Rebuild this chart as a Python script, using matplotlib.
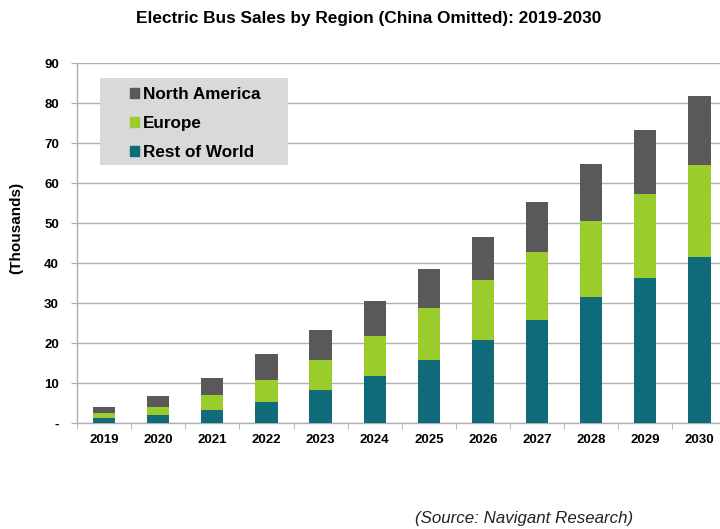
import numpy as np
import matplotlib
matplotlib.use('Agg')
from matplotlib import pyplot as plt
from matplotlib.patches import Patch, Rectangle

plt.rcParams['font.family'] = ['Liberation Sans', 'DejaVu Sans']

years = ['2019', '2020', '2021', '2022', '2023', '2024',
         '2025', '2026', '2027', '2028', '2029', '2030']
# sales in thousands of buses, stacked bottom to top
rest_of_world = [1.2, 2.1, 3.25, 5.25, 8.25, 11.7, 15.9, 20.75, 25.9, 31.5, 36.25, 41.5]
europe = [1.3, 2.0, 3.75, 5.55, 7.45, 10.2, 12.85, 15.05, 17.0, 19.2, 21.15, 23.1]
north_america = [1.5, 2.8, 4.4, 6.45, 7.7, 8.6, 9.85, 10.9, 12.5, 14.1, 15.85, 17.3]

col_na = '#595959'
col_eu = '#9acd2c'
col_row = '#0f6a7a'
grid_col = '#b0b0b0'

fig = plt.figure(figsize=(7.2, 5.29), dpi=100)
ax = fig.add_axes([0.107, 0.2, 0.902, 0.68])

x = np.arange(len(years))
w = 0.41
row = np.array(rest_of_world)
eu = np.array(europe)
na = np.array(north_america)
ax.bar(x, row, w, color=col_row, zorder=3)
ax.bar(x, eu, w, bottom=row, color=col_eu, zorder=3)
ax.bar(x, na, w, bottom=row + eu, color=col_na, zorder=3)

ax.set_xlim(-0.5, len(years) - 0.5)
ax.set_ylim(0, 90)
ax.set_yticks(np.arange(0, 91, 10))
ax.set_yticklabels(['-'] + [str(v) for v in range(10, 91, 10)])
ax.yaxis.grid(True, color=grid_col, linewidth=1.0, zorder=0)
ax.set_axisbelow(True)

ax.set_xticks(x)
ax.set_xticklabels(years)
ax.set_xticks(np.arange(-0.5, len(years), 1.0), minor=True)
ax.tick_params(axis='x', which='major', length=0, pad=8)
ax.tick_params(axis='x', which='minor', length=4, color=grid_col, direction='out')
ax.tick_params(axis='y', length=4, color=grid_col, pad=9)
for lbl in ax.get_xticklabels() + ax.get_yticklabels():
    lbl.set_fontweight('bold')
    lbl.set_fontsize(9.5)

for side in ['top', 'right']:
    ax.spines[side].set_visible(False)
for side in ['left', 'bottom']:
    ax.spines[side].set_color(grid_col)
    ax.spines[side].set_linewidth(1.0)

# grey panel behind the legend, wider than the legend text itself
ax.add_patch(Rectangle((0.0354, 0.7175), 0.29, 0.2415, transform=ax.transAxes,
                       facecolor='#d9d9d9', edgecolor='none', zorder=4))

handles = [Patch(color=col_na, label='North America'),
           Patch(color=col_eu, label='Europe'),
           Patch(color=col_row, label='Rest of World')]
leg = ax.legend(handles=handles, loc='upper left', bbox_to_anchor=(0.081, 0.934),
                frameon=False, handlelength=0.55, handleheight=0.55, handletextpad=0.25,
                labelspacing=0.82, borderpad=0, borderaxespad=0,
                prop={'weight': 'bold', 'size': 12.3})
leg.set_zorder(5)

fig.text(0.512, 0.965, 'Electric Bus Sales by Region (China Omitted): 2019-2030',
         ha='center', va='center', fontsize=12.4, fontweight='bold')
fig.text(0.022, 0.569, '(Thousands)', rotation=90, ha='center', va='center',
         fontsize=11, fontweight='bold')
fig.text(0.88, 0.02, '(Source: Navigant Research)', ha='right', va='center',
         fontsize=12.2, style='italic', color='#222222')

fig.savefig('out.png', dpi=100)
